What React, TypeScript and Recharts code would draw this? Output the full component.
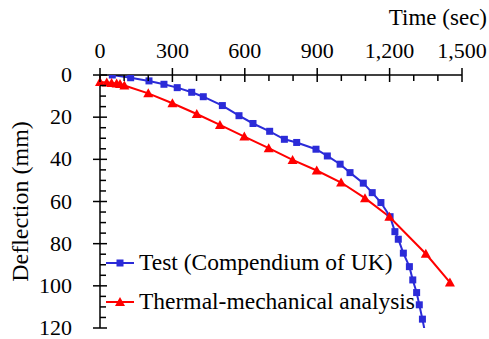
import React from 'react'
import { LineChart, Line, XAxis, YAxis } from 'recharts'

// Test (Compendium of UK)
const testTime = [51, 127, 203, 265, 320, 380, 428, 507, 576, 634, 703, 764, 815, 895, 942, 995, 1036, 1091, 1128, 1164, 1202, 1222, 1236, 1257, 1282, 1296, 1312, 1323, 1336, 1345]
const testDefl = [0, 1.3, 2.8, 4.4, 6, 8.2, 10.3, 14.5, 19.3, 23, 26.7, 30.5, 32, 35.2, 38.4, 42.3, 46.3, 51.3, 55.8, 60.5, 67.2, 74.3, 77.9, 84.5, 90.9, 97.2, 103.2, 109, 115.8, 121]

// Thermal-mechanical analysis
const femTime = [0, 28, 48, 69, 83, 101, 200, 300, 401, 497, 598, 699, 798, 898, 999, 1098, 1199, 1350, 1450]
const femDefl = [3.3, 3.5, 3.8, 4.0, 4.3, 5.0, 8.7, 13.4, 18.5, 23.7, 29.2, 34.7, 40.3, 45.3, 51, 58.4, 67.2, 84.8, 98.4]

const timeTicks = [0, 100, 200, 300, 400, 500, 600, 700, 800, 900, 1000, 1100, 1200, 1300, 1400, 1500]
const deflTicks = [0, 5, 10, 15, 20, 25, 30, 35, 40, 45, 50, 55, 60, 65, 70, 75, 80, 85, 90, 95, 100, 105, 110, 115, 120]

const BLUE = '#2b2bd8'
const RED = '#ff0000'
const FONT = '"Liberation Serif"'

const testData = testTime.map((t, i) => ({ t, d: testDefl[i] }))
const femData = femTime.map((t, i) => ({ t, d: femDefl[i] }))

const fmt = (v: number) => v.toLocaleString('en-US')
const tickStyle = { fontFamily: FONT, fontSize: 22 }

function XTick({ x, y, payload }: any) {
  const major = payload.value % 300 === 0
  return (
    <g>
      {major ? (
        <line x1={x} x2={x} y1={y - 7} y2={y + 7} stroke="#000" strokeWidth={1.5} />
      ) : (
        <line x1={x} x2={x} y1={y} y2={y + 6} stroke="#000" strokeWidth={1.5} />
      )}
      {major && (
        <text x={x} y={y - 17} textAnchor="middle" style={tickStyle} fill="#000">
          {fmt(payload.value)}
        </text>
      )}
    </g>
  )
}

function YTick({ x, y, payload }: any) {
  const major = payload.value % 20 === 0
  return (
    <g>
      {major ? (
        <line x1={x - 7} x2={x + 7} y1={y} y2={y} stroke="#000" strokeWidth={1.5} />
      ) : (
        <line x1={x} x2={x + 6} y1={y} y2={y} stroke="#000" strokeWidth={1.5} />
      )}
      {major && (
        <text x={x - 28} y={y + 7} textAnchor="end" style={tickStyle} fill="#000">
          {payload.value}
        </text>
      )}
    </g>
  )
}

function Square({ cx, cy, payload }: any) {
  if (payload.d > 120) return <g />
  return <rect x={cx - 3.5} y={cy - 3.5} width={7} height={7} fill={BLUE} />
}

function Triangle({ cx, cy }: any) {
  return <path d={`M${cx},${cy - 5} L${cx + 5},${cy + 4} L${cx - 5},${cy + 4} Z`} fill={RED} />
}

const legendItems = [
  { name: 'Test (Compendium of UK)', color: BLUE, shape: 'square' },
  { name: 'Thermal-mechanical analysis', color: RED, shape: 'triangle' },
]

function LegendBox() {
  return (
    <div
      style={{
        position: 'absolute',
        left: 106,
        top: 243,
        fontFamily: FONT,
        fontSize: 23.5,
        lineHeight: '39px',
        color: '#000',
      }}
    >
      {legendItems.map((it) => (
        <div key={it.name} style={{ display: 'flex', alignItems: 'center', whiteSpace: 'nowrap' }}>
          <svg width={31} height={14} style={{ marginRight: 2 }}>
            <line x1={0} x2={28} y1={7} y2={7} stroke={it.color} strokeWidth={2} />
            {it.shape === 'square' ? (
              <rect x={10.5} y={3.5} width={7} height={7} fill={it.color} />
            ) : (
              <path d="M14,2 L19,11 L9,11 Z" fill={it.color} />
            )}
          </svg>
          <span>{it.name}</span>
        </div>
      ))}
    </div>
  )
}

export default function App() {
  return (
    <div style={{ position: 'absolute', left: 0, top: 0, width: 489, height: 339, background: '#fff' }}>
      <LineChart width={489} height={339} margin={{ top: 0, right: 27, bottom: 11, left: 0 }}>
        <XAxis
          type="number"
          dataKey="t"
          orientation="top"
          domain={[0, 1500]}
          ticks={timeTicks}
          interval={0}
          height={75}
          tickSize={0}
          tickMargin={0}
          tickLine={false}
          tick={<XTick />}
          axisLine={{ stroke: '#000', strokeWidth: 1.5 }}
          label={({ viewBox }: any) => (
            <text
              x={viewBox.x + viewBox.width + 25}
              y={viewBox.y + 25}
              textAnchor="end"
              style={{ fontFamily: FONT, fontSize: 23 }}
              fill="#000"
            >
              Time (sec)
            </text>
          )}
        />
        <YAxis
          type="number"
          dataKey="d"
          reversed
          domain={[0, 120]}
          allowDataOverflow
          ticks={deflTicks}
          interval={0}
          width={100}
          tickSize={0}
          tickMargin={0}
          tickLine={false}
          tick={<YTick />}
          axisLine={{ stroke: '#000', strokeWidth: 1.5 }}
          label={({ viewBox }: any) => (
            <text
              x={20}
              y={viewBox.y + viewBox.height / 2}
              transform={`rotate(-90 20 ${viewBox.y + viewBox.height / 2})`}
              textAnchor="middle"
              dominantBaseline="central"
              style={{ fontFamily: FONT, fontSize: 24 }}
              fill="#000"
            >
              Deflection (mm)
            </text>
          )}
        />
        <Line
          data={testData}
          dataKey="d"
          name="Test (Compendium of UK)"
          stroke={BLUE}
          strokeWidth={2}
          dot={<Square />}
          isAnimationActive={false}
        />
        <Line
          data={femData}
          dataKey="d"
          name="Thermal-mechanical analysis"
          stroke={RED}
          strokeWidth={2}
          dot={<Triangle />}
          isAnimationActive={false}
        />
      </LineChart>
      <LegendBox />
    </div>
  )
}
